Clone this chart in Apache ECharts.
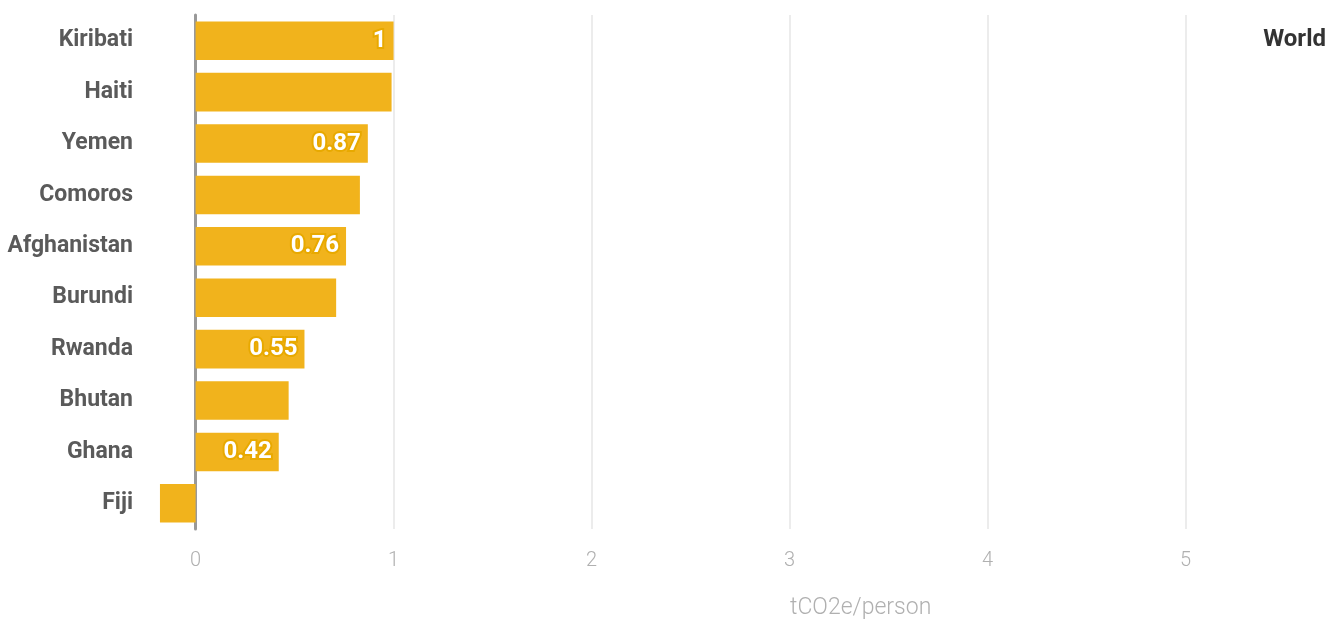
<!DOCTYPE html>
<html>
<head>
<meta charset="utf-8">
<script src="https://cdn.jsdelivr.net/npm/echarts@6/dist/echarts.min.js"></script>
<style>
  html, body { margin: 0; padding: 0; background: #ffffff; }
  #chart { width: 1328px; height: 622px; }
</style>
</head>
<body>
<div id="chart"></div>
<script>
  // categories, top to bottom
  var countries = ['Kiribati', 'Haiti', 'Yemen', 'Comoros', 'Afghanistan', 'Burundi', 'Rwanda', 'Bhutan', 'Ghana', 'Fiji'];
  // tCO2e per person
  var values = [1, 0.99, 0.87, 0.83, 0.76, 0.71, 0.55, 0.47, 0.42, -0.18];
  // which bars carry a value label
  var showLabel = [true, false, true, false, true, false, true, false, true, false];
  var unitName = 'tCO2e/person';
  var worldLabel = 'World';

  var font = 'Roboto, sans-serif';

  var myChart = echarts.init(document.getElementById('chart'));

  var seriesData = values.map(function (v, i) {
    return {
      value: v,
      label: {show: showLabel[i]}
    };
  });

  myChart.setOption({
    animation: false,
    grid: {
      left: 156,
      top: 15,
      width: 1168,
      height: 514,
      containLabel: false,
      outerBoundsMode: 'none'
    },
    xAxis: {
      type: 'value',
      min: -0.2,
      max: 5.7,
      splitNumber: 6,
      axisLine: {show: false},
      axisTick: {show: false},
      splitLine: {
        show: true,
        showMinLine: false,
        showMaxLine: false,
        lineStyle: {color: '#ececec', width: 2}
      },
      axisLabel: {
        showMinLabel: false,
        showMaxLabel: false,
        color: '#b0b0b0',
        fontFamily: font,
        fontWeight: 300,
        fontSize: 20,
        margin: 22
      }
    },
    yAxis: {
      type: 'category',
      inverse: true,
      data: countries,
      axisLine: {
        show: true,
        onZero: true,
        lineStyle: {color: '#999999', width: 3}
      },
      axisTick: {show: false},
      splitLine: {show: false},
      axisLabel: {
        color: '#5a5a5a',
        fontFamily: font,
        fontWeight: 'bold',
        fontSize: 23,
        margin: 23
      }
    },
    series: [
      {
        name: unitName,
        type: 'bar',
        barCategoryGap: '25%',
        data: seriesData,
        itemStyle: {color: '#f1b31c'},
        label: {
          position: 'insideRight',
          distance: 7,
          color: '#ffffff',
          fontFamily: font,
          fontWeight: 'bold',
          fontSize: 24,
          textBorderColor: '#e8a900',
          textBorderWidth: 4
        },
        z: 1
      }
    ],
    graphic: [
      {
        type: 'text',
        right: 2,
        top: 28,
        style: {
          text: worldLabel,
          fill: '#333333',
          font: 'bold 24px ' + font,
          textAlign: 'right'
        }
      },
      {
        type: 'text',
        left: 790,
        top: 597,
        style: {
          text: unitName,
          fill: '#b0b0b0',
          font: '300 23px ' + font
        }
      }
    ]
  });
</script>
</body>
</html>
